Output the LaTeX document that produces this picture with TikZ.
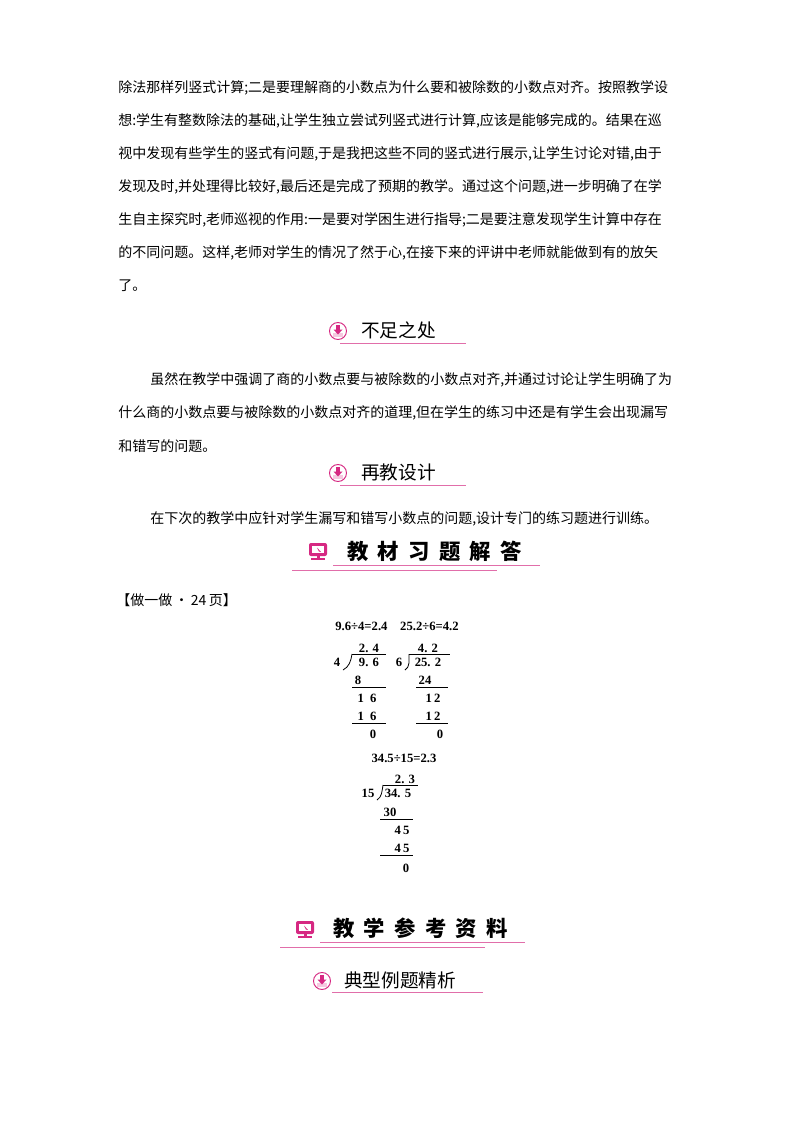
\documentclass[tikz,border=0pt]{standalone}
\usepackage{fontspec}
\setmainfont{Liberation Serif}
\newfontfamily\cjk{Noto Sans CJK SC}
\definecolor{pk}{RGB}{214,40,130}
\definecolor{lpk}{RGB}{225,110,170}
\XeTeXlinebreaklocale "zh"
\XeTeXlinebreakskip=0pt plus 2pt
\begin{document}
\begin{tikzpicture}[x=0.75pt,y=-0.75pt,
  body/.style={anchor=west,inner sep=0pt,font=\cjk\fontsize{10.5}{12}\selectfont},
  jline/.style={anchor=west,inner sep=0pt,font=\cjk\fontsize{10.5}{12}\selectfont},
  hd/.style={anchor=west,inner sep=0pt,font=\cjk\fontsize{14}{15}\selectfont},
  bighd/.style={anchor=west,inner sep=0pt,font=\cjk\bfseries\fontsize{16}{17}\selectfont},
  num/.style={inner sep=0pt,font=\bfseries\fontsize{9.5}{11}\selectfont},
  rule/.style={line width=0.6pt},
  pline/.style={lpk,line width=0.7pt}]
\useasboundingbox (0,0) rectangle (800,1132);
\fill[white] (0,0) rectangle (800,1132);
\newcommand\J[3]{\node[jline] (#1) at (118,#2) {\makebox[421.5pt][s]{#3}};}
\J{l1}{88}{除法那样列竖式计算;二是要理解商的小数点为什么要和被除数的小数点对齐。按照教学设}
\J{l2}{121}{想:学生有整数除法的基础,让学生独立尝试列竖式进行计算,应该是能够完成的。结果在巡}
\J{l3}{154}{视中发现有些学生的竖式有问题,于是我把这些不同的竖式进行展示,让学生讨论对错,由于}
\J{l4}{187}{发现及时,并处理得比较好,最后还是完成了预期的教学。通过这个问题,进一步明确了在学}
\J{l5}{220}{生自主探究时,老师巡视的作用:一是要对学困生进行指导;二是要注意发现学生计算中存在}
\J{l6}{253}{的不同问题。这样,老师对学生的情况了然于心,在接下来的评讲中老师就能做到有的放矢}
\node[body] (l7) at (118,286) {了。};
\newcommand\dicon[2]{%
  \draw[pk,line width=0.7pt,fill=white] (#1,#2) circle (8.5);
  \fill[pk!25] (#1-5,#2+2) rectangle (#1+5,#2+6);
  \fill[pk] (#1-1.6,#2-6) rectangle (#1+1.6,#2-1);
  \fill[pk] (#1-4.5,#2-1.5) -- (#1+4.5,#2-1.5) -- (#1,#2+3.5) -- cycle;}
\dicon{338}{331}
\node[hd] (h1) at (361,330) {不足之处};
\draw[pline] (340,343) -- (466,343);
\node[body] (p1) at (150,380) {\makebox[394.5pt][s]{虽然在教学中强调了商的小数点要与被除数的小数点对齐,并通过讨论让学生明确了为}};
\J{p2}{413}{什么商的小数点要与被除数的小数点对齐的道理,但在学生的练习中还是有学生会出现漏写}
\node[body] (p3) at (118,446) {和错写的问题。};
\dicon{338}{473}
\node[hd] (h2) at (361,472) {再教设计};
\draw[pline] (340,485) -- (466,485);
\node[body] (q1) at (150,519) {在下次的教学中应针对学生漏写和错写小数点的问题,设计专门的练习题进行训练。};
\newcommand\micon[2]{%
  \fill[pk,rounded corners=1.5pt] (#1-9,#2-8) rectangle (#1+9,#2+5);
  \fill[white] (#1-6,#2-5) rectangle (#1+6,#2+2);
  \fill[pk] (#1-1,#2-3.5) -- (#1+3,#2+1) -- (#1+1,#2+0.5) -- cycle;
  \fill[pk] (#1-1.5,#2+5) rectangle (#1+1.5,#2+7);
  \fill[pk] (#1-7,#2+7) rectangle (#1+7,#2+8.5);}
\micon{318}{551}
\node[bighd] (h3) at (347,551) {教\hspace{7pt}材\hspace{7pt}习\hspace{7pt}题\hspace{7pt}解\hspace{7pt}答};
\draw[pline] (333,565) -- (540,565);
\draw[pline] (292,570) -- (497,570);
\node[body] (z) at (116,600) {【做一做\,•\,24\,页】};
\node[num] (e1) at (397,626) {9.6÷4=2.4\quad 25.2÷6=4.2};
\node[num] at (369,648) {2.\,\,4};
\draw[rule] (352,654) -- (386,654);
\node[num] at (337,662) {4};
\draw[rule] (343,670) .. controls (349,667) and (351,661) .. (352,654);
\node[num] at (369,662) {9.\,\,6};
\node[num] at (358,680) {8};
\draw[rule] (352,687) -- (386,687);
\node[num] at (367,698) {1\,\,\,6};
\node[num] at (367,716) {1\,\,\,6};
\draw[rule] (352,723) -- (386,723);
\node[num] at (373,734) {0};
\node[num] at (428,648) {4.\,\,2};
\draw[rule] (409,654) -- (450,654);
\node[num] at (399,662) {6};
\draw[rule] (405,670) .. controls (410,667) and (409,661) .. (409,654);
\node[num] at (428,662) {25.\,\,2};
\node[num] at (425,680) {24};
\draw[rule] (416,687) -- (448,687);
\node[num] at (433,698) {1\,2};
\node[num] at (433,716) {1\,2};
\draw[rule] (416,723) -- (448,723);
\node[num] at (440,734) {0};
\node[num] (e2) at (404,758) {34.5÷15=2.3};
\node[num] at (405,779) {2.\,\,3};
\draw[rule] (383,785) -- (418,785);
\node[num] at (368,793) {15};
\draw[rule] (377,800) .. controls (382,797) and (382,791) .. (383,785);
\node[num] at (398,793) {34.\,\,5};
\node[num] at (390,812) {30};
\draw[rule] (380,819) -- (413,819);
\node[num] at (402,830) {4\,5};
\node[num] at (402,848) {4\,5};
\draw[rule] (380,855) -- (413,855);
\node[num] at (406,868) {0};
\micon{305}{929}
\node[bighd] (h4) at (333,928) {教\hspace{7pt}学\hspace{7pt}参\hspace{7pt}考\hspace{7pt}资\hspace{7pt}料};
\draw[pline] (320,942) -- (525,942);
\draw[pline] (280,947) -- (485,947);
\dicon{322}{981}
\node[hd] (h5) at (344,980) {典型例题精析};
\draw[pline] (332,992) -- (483,992);
\end{tikzpicture}
\end{document}
